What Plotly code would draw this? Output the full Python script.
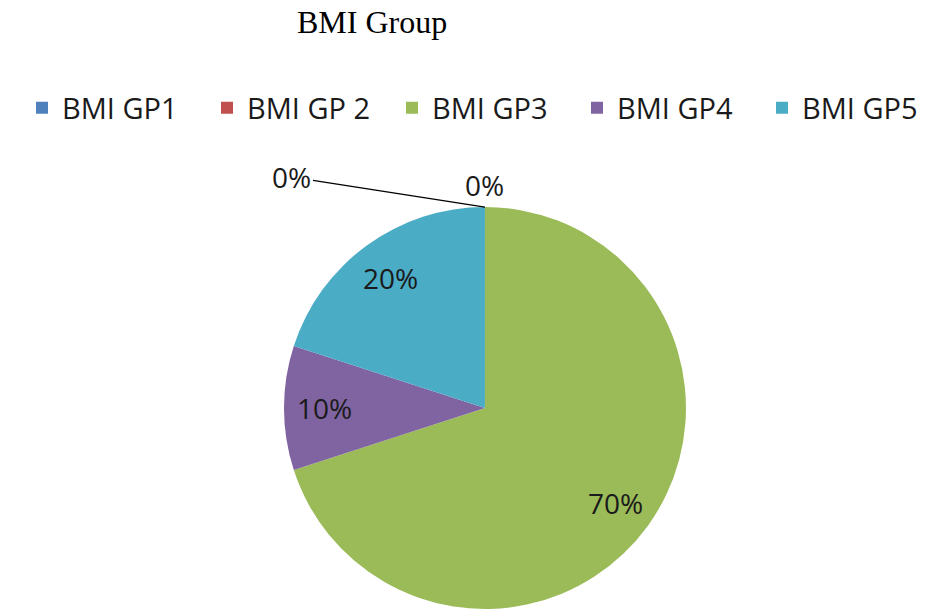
import math
import plotly.graph_objects as go

categories = ["BMI GP1", "BMI GP 2", "BMI GP3", "BMI GP4", "BMI GP5"]
values = [0, 0, 70, 10, 20]
colors = ["#4F81BD", "#C0504D", "#9BBB59", "#8064A2", "#4BACC6"]
title_text = "BMI Group"

W, H = 951, 613
dom_x = [0.2986, 0.7213]
dom_y = [0.0065, 0.6623]
LABEL_R = 0.8  # label distance as fraction of radius

total = sum(values)
pct = [f"{round(100 * v / total)}%" for v in values]

label_font = dict(family="Open Sans", size=28, color="#1a1a1a")

fig = go.Figure(go.Pie(
    labels=categories,
    values=values,
    marker=dict(colors=colors, line=dict(width=0)),
    sort=False,
    direction="clockwise",
    rotation=0,
    textinfo="none",
    domain=dict(x=dom_x, y=dom_y),
    showlegend=True,
))

# pie geometry derived from its domain
cx = (dom_x[0] + dom_x[1]) / 2 * W
cy = (dom_y[0] + dom_y[1]) / 2 * H
r = min((dom_x[1] - dom_x[0]) * W, (dom_y[1] - dom_y[0]) * H) / 2

annotations = []
cum = 0.0
zero_idx = 0
for v, p in zip(values, pct):
    if v == 0:
        if zero_idx == 0:
            annotations.append(dict(
                x=cx / W, y=(cy + r) / H, xref="paper", yref="paper",
                text=p, showarrow=True, arrowhead=0, arrowwidth=1.3,
                arrowcolor="#000000", ax=-193, ay=-30, standoff=0,
                font=label_font,
            ))
        else:
            annotations.append(dict(
                x=cx / W, y=(cy + r) / H, xref="paper", yref="paper",
                text=p, showarrow=False, yshift=22,
                font=label_font,
            ))
        zero_idx += 1
    else:
        mid = (cum + v / 2) / total * 2 * math.pi
        px = cx + LABEL_R * r * math.sin(mid)
        py = cy + LABEL_R * r * math.cos(mid)
        annotations.append(dict(
            x=px / W, y=py / H, xref="paper", yref="paper",
            text=p, showarrow=False, xanchor="center", yanchor="middle",
            font=label_font,
        ))
    cum += v

annotations.append(dict(
    x=372 / W, y=1 - 22 / H, xref="paper", yref="paper",
    text=title_text, showarrow=False, xanchor="center", yanchor="middle",
    font=dict(family="Liberation Serif", size=32, color="#000000"),
))

fig.update_layout(
    width=W, height=H,
    margin=dict(l=0, r=0, t=0, b=0),
    paper_bgcolor="white",
    plot_bgcolor="white",
    annotations=annotations,
    legend=dict(
        orientation="h",
        x=22 / W, xanchor="left",
        y=1 - 108 / H, yanchor="middle",
        entrywidth=140, entrywidthmode="pixels",
        font=dict(family="Open Sans", size=29, color="#1a1a1a"),
        traceorder="normal",
    ),
)

fig.write_html("out.html")
